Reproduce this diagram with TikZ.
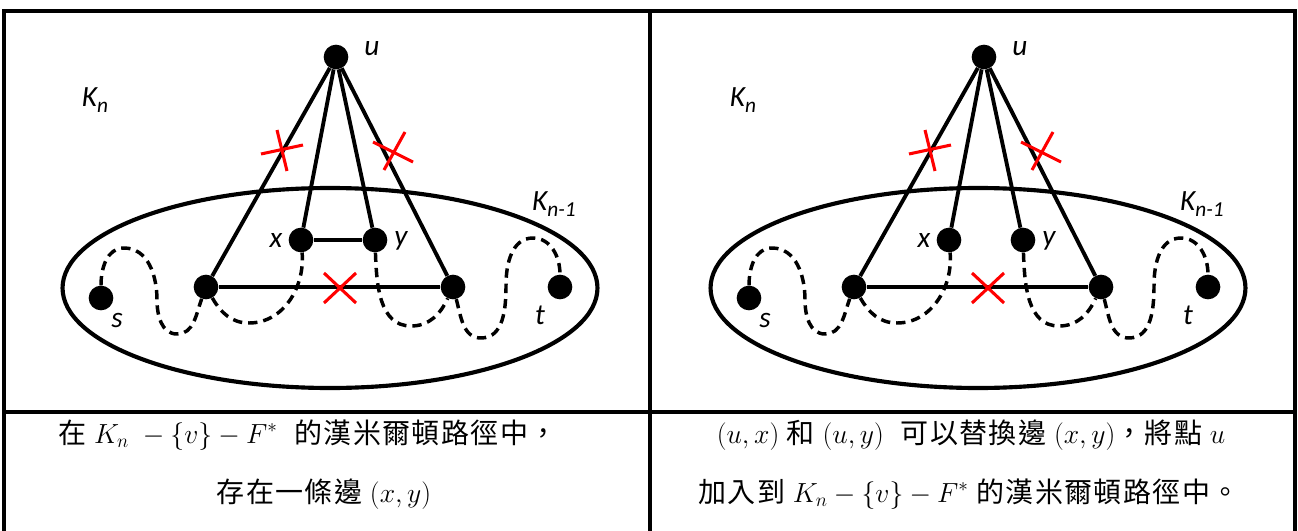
\documentclass[tikz,border=0pt]{standalone}
\usepackage{fontspec}
\newfontfamily\cjk[LetterSpace=5]{Noto Sans CJK TC}
\newfontfamily\lblfont{Carlito}
\usetikzlibrary{positioning}
\definecolor{CutRed}{RGB}{255,0,0}
\newcommand{\lblsub}[1]{\raisebox{-4pt}{\fontsize{16}{16}\selectfont #1}}
\newcommand{\cellfont}{\fontsize{21}{25}\selectfont\cjk}

\begin{document}
\begin{tikzpicture}[
    x=0.75pt, y=-0.75pt,
    vert/.style={circle, fill=black, inner sep=0pt, minimum size=18.5pt},
    lbl/.style={font=\fontsize{22}{24}\selectfont\lblfont\itshape, inner sep=0pt},
    edge/.style={line width=2.9pt},
    walk/.style={line width=2.6pt, dash pattern=on 7pt off 4.5pt},
    ring/.style={line width=3.1pt},
    cut/.style={draw=CutRed, line width=2.3pt},
    tableline/.style={line width=2.4pt},
    cell/.style={font=\cellfont, anchor=base, inner sep=0pt}
]
    \useasboundingbox (0,0) rectangle (1298,531);

    % table
    \draw[tableline] (4,531) -- (4,11) -- (1295,11) -- (1295,531);
    \draw[tableline] (650,11) -- (650,531);
    \draw[tableline] (4,412) -- (1295,412);

    % both panels
    \foreach \p/\dx in {L/0,R/486}{
    \begin{scope}[xshift=\dx pt]
        \draw[ring] (330,288) ellipse [x radius=200.6pt, y radius=75pt];

        \node[vert] (u\p) at (336,57) {};
        \node[vert] (x\p) at (301,240) {};
        \node[vert] (y\p) at (375,240) {};
        \node[vert] (a\p) at (206,287) {};
        \node[vert] (b\p) at (453,287) {};
        \node[vert] (s\p) at (101,298) {};
        \node[vert] (t\p) at (560,287) {};

        \node[lbl] (ul\p) at (372,49) {u};
        \node[lbl] (kn\p) at (95,100) {K\lblsub{n}};
        \node[lbl] (km\p) at (554,204) {K\lblsub{n-1}};
        \node[lbl] (xl\p) at (276,240) {x};
        \node[lbl] (yl\p) at (401,241) {y};
        \node[lbl] (sl\p) at (117,321) {s};
        \node[lbl] (tl\p) at (540,315) {t};

        \draw[edge] (u\p) -- (a\p);
        \draw[edge] (u\p) -- (x\p);
        \draw[edge] (u\p) -- (y\p);
        \draw[edge] (u\p) -- (b\p);
        \draw[edge] (a\p) -- (b\p);

        \draw[walk] (s\p) to[out=90,in=180] (124,248) to[out=0,in=90] (157,300)
            to[out=-90,in=180] (177,334) to[out=0,in=-110] (a\p);
        \draw[walk] (a\p) to[out=-60,in=180] (249,323) to[out=0,in=-85] (x\p);
        \draw[walk] (y\p) to[out=-88,in=180] (411,326) to[out=0,in=-115] (b\p);
        \draw[walk] (b\p) to[out=-75,in=180] (481,338) to[out=0,in=-90] (506,285)
            to[out=90,in=180] (533,238) to[out=0,in=90] (t\p);

        % removed edges
        \draw[cut] (261,154) -- (303,145) (277,130) -- (287,171);
        \draw[cut] (373,142) -- (413,162) (405,132) -- (384,170);
        \draw[cut] (324,273) -- (356,303) (356,273) -- (324,303);
    \end{scope}
    }
    \draw[edge] (xL) -- (yL);

    % captions
    \node[cell] (capL1) at (308,443) {在 $K_n\;-\{v\}-F^{*}$\hspace{0.6em}的漢米爾頓路徑中，};
    \node[cell] (capL2) at (324,502) {存在一條邊 $(x,y)$};
    \node[cell] (capR1) at (971,443) {$(u,x)$ 和 $(u,y)$\hspace{0.6em}可以替換邊 $(x,y)$，將點 $u$};
    \node[cell] (capR2) at (969,502) {加入到 $K_n-\{v\}-F^{*}$ 的漢米爾頓路徑中。};
\end{tikzpicture}
\end{document}
